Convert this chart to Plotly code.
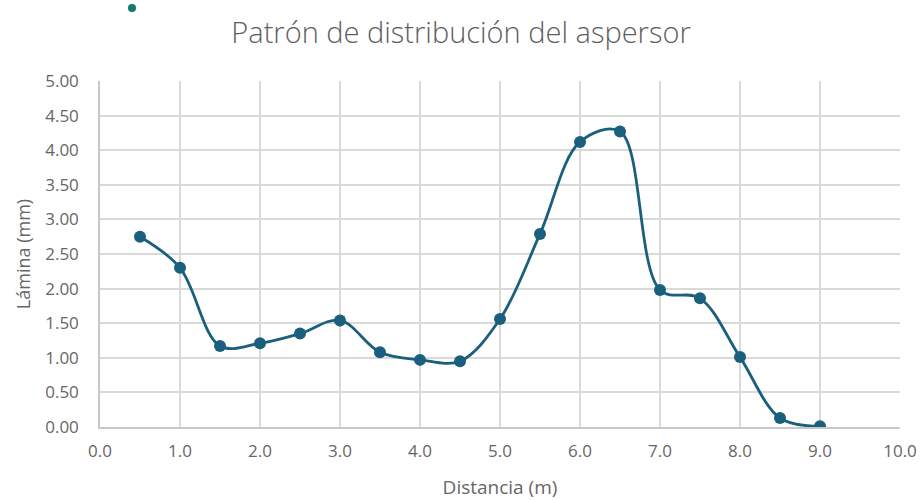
import plotly.graph_objects as go

distancia = [0.5, 1.0, 1.5, 2.0, 2.5, 3.0, 3.5, 4.0, 4.5, 5.0, 5.5, 6.0, 6.5, 7.0, 7.5, 8.0, 8.5, 9.0]
lamina = [2.75, 2.30, 1.17, 1.21, 1.35, 1.54, 1.08, 0.97, 0.95, 1.56, 2.79, 4.12, 4.27, 1.98, 1.86, 1.01, 0.13, 0.01]

title_text = "Patrón de distribución del aspersor"
x_title = "Distancia (m)"
y_title = "Lámina (mm)"

color = "#1b5f7e"
gray = "#666666"
font_family = "Open Sans, sans-serif"

fig = go.Figure()
fig.add_trace(go.Scatter(
    x=distancia, y=lamina, mode="lines+markers",
    line=dict(color=color, width=2.8, shape="spline", smoothing=1.0),
    marker=dict(color=color, size=12),
    showlegend=False,
))

fig.update_layout(
    width=922, height=500,
    margin=dict(l=100, r=22, t=81, b=73),
    paper_bgcolor="white", plot_bgcolor="white",
    font=dict(family=font_family, color=gray, size=17),
    title=dict(text=title_text, x=0.5, xanchor="center", y=0.935, yanchor="middle",
               font=dict(size=29, color="#5e5e5e", family=font_family, weight=300)),
    xaxis=dict(range=[0, 10], dtick=1, tick0=0, tickformat=".1f", automargin=False,
               showgrid=True, gridcolor="#d9d9d9", gridwidth=1.5,
               showline=True, linecolor="#c8c8c8", linewidth=1.5,
               zeroline=False, ticks="", ticklabelstandoff=8,
               title=dict(text=x_title, font=dict(size=19, color=gray), standoff=22),
               tickfont=dict(size=17, color=gray)),
    yaxis=dict(range=[0, 5], dtick=0.5, tick0=0, tickformat=".2f", automargin=False,
               showgrid=True, gridcolor="#d9d9d9", gridwidth=1.5,
               showline=True, linecolor="#c8c8c8", linewidth=1.5,
               zeroline=False, ticks="", ticklabelstandoff=16,
               title=dict(text=y_title, font=dict(size=18, color=gray), standoff=10),
               tickfont=dict(size=17, color=gray)),
)

fig.add_shape(type="circle", xref="paper", yref="paper",
              x0=(128 - 100) / 800, x1=(136 - 100) / 800,
              y0=(427 - 12) / 346, y1=(427 - 4) / 346,
              fillcolor="#0e7c6b", line=dict(width=0))

fig.write_html("out.html")
